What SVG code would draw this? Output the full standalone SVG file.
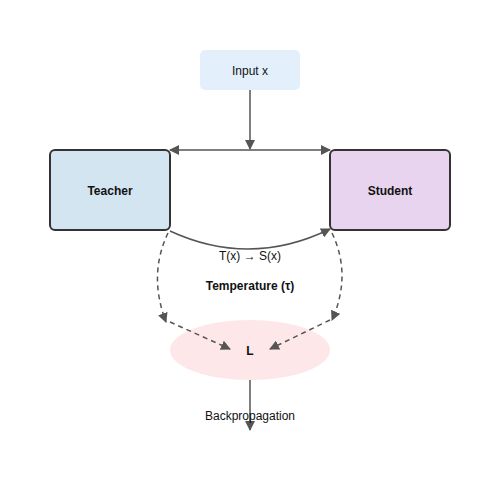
<svg xmlns="http://www.w3.org/2000/svg" width="500" height="500" viewBox="0 0 500 500">
<defs>
<marker id="ah" viewBox="0 0 10 10" refX="9" refY="5" markerWidth="10" markerHeight="10" markerUnits="userSpaceOnUse" orient="auto-start-reverse">
<path d="M0,0 L10,5 L0,10 Z" fill="#555"/>
</marker>
<style>
text{font-family:"Liberation Sans",Arial,sans-serif;fill:#111;text-anchor:middle;dominant-baseline:middle}
.b{font-weight:bold}
.box{stroke:#333;stroke-width:2}
.c{fill:none;stroke:#555;stroke-width:1.5}
.d{stroke-dasharray:5,4}
</style>
</defs>
<rect width="500" height="500" fill="#fff"/>
<g id="input">
<rect x="200" y="50" width="100" height="40" rx="5" fill="#e3f0fc"/>
<text x="250" y="72" font-size="12">Input x</text>
</g>
<g id="teacher">
<rect class="box" x="50" y="150" width="120" height="80" rx="5" fill="#d4e5f2"/>
<text class="b" x="110" y="192" font-size="12">Teacher</text>
</g>
<g id="student">
<rect class="box" x="330" y="150" width="120" height="80" rx="5" fill="#e8d4ef"/>
<text class="b" x="390" y="192" font-size="12">Student</text>
</g>
<g id="loss">
<ellipse cx="250" cy="350" rx="80" ry="30" fill="#fde7e9"/>
<text class="b" x="250" y="352" font-size="12">L</text>
</g>
<g id="connectors">
<path class="c" d="M250,90 L250,149" marker-end="url(#ah)"/>
<path class="c" d="M170,150 L330,150" marker-start="url(#ah)" marker-end="url(#ah)"/>
<path class="c" d="M170,231 Q250,268 330,229" marker-end="url(#ah)"/>
<path class="c d" d="M168,233 Q148,275 166,322" marker-end="url(#ah)"/>
<path class="c d" d="M332,233 Q352,275 332,320" marker-end="url(#ah)"/>
<path class="c d" d="M170,322 L230,349" marker-end="url(#ah)"/>
<path class="c d" d="M330,320 L270,349" marker-end="url(#ah)"/>
<path class="c" d="M250,380 L250,430" marker-end="url(#ah)"/>
</g>
<g id="labels">
<text x="250" y="257" font-size="12">T(x) → S(x)</text>
<text class="b" x="250" y="287" font-size="12">Temperature (τ)</text>
<text x="250" y="417" font-size="12">Backpropagation</text>
</g>
</svg>
